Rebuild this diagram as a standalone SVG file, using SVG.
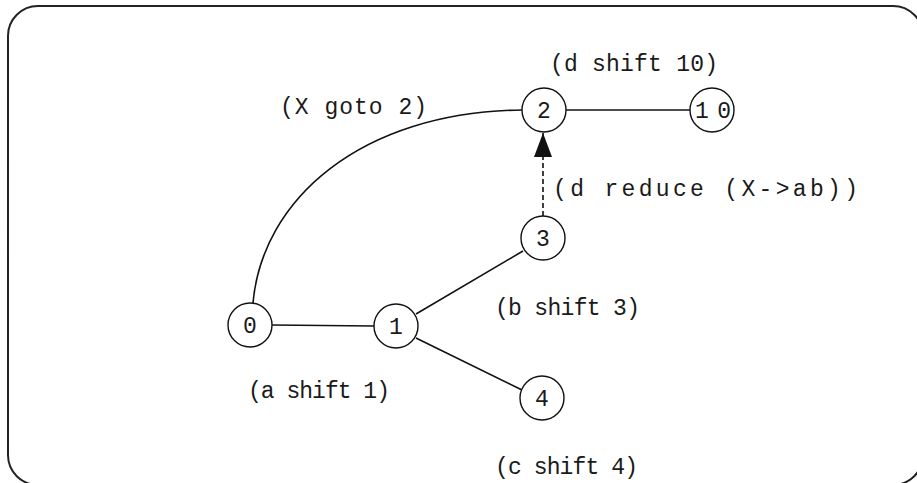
<svg xmlns="http://www.w3.org/2000/svg" width="917" height="483" viewBox="0 0 917 483">
<style>
.n{fill:#fff;stroke:#111;stroke-width:1.4}
.t{font-family:"Liberation Mono","DejaVu Sans Mono",monospace;font-size:23px;fill:#1a1a1a}
.c{text-anchor:middle}
.e{fill:none;stroke:#111;stroke-width:1.6}
.d{stroke-dasharray:5 3}
</style>
<defs>
<marker id="ah" markerWidth="24" markerHeight="18" refX="24" refY="9" orient="auto" markerUnits="userSpaceOnUse" viewBox="0 0 24 18">
<path d="M0,0 L24,9 L0,18 z" fill="#111"/>
</marker>
</defs>
<rect x="8" y="6" width="915" height="479" rx="30" ry="30" fill="#fff" stroke="#222" stroke-width="2"/>
<g id="connectors">
<line class="e" x1="272" y1="325" x2="374" y2="326"/>
<line class="e" x1="416" y1="314" x2="523" y2="251"/>
<line class="e" x1="416" y1="338" x2="522" y2="390"/>
<line class="e" x1="566" y1="110" x2="690" y2="110"/>
<path class="e" d="M253,303 C262,200 360,112 522,110"/>
<line class="e d" x1="543" y1="216" x2="543" y2="133" marker-end="url(#ah)"/>
</g>
<g id="labels">
<text class="t" x="280" y="114" textLength="147" lengthAdjust="spacing">(X goto 2)</text>
<text class="t" x="550" y="71" textLength="168" lengthAdjust="spacing">(d shift 10)</text>
<text class="t" x="553" y="196" textLength="305" lengthAdjust="spacing">(d reduce (X-&gt;ab))</text>
<text class="t" x="495" y="315" textLength="145" lengthAdjust="spacing">(b shift 3)</text>
<text class="t" x="248" y="398" textLength="142" lengthAdjust="spacing">(a shift 1)</text>
<text class="t" x="495" y="474" textLength="143" lengthAdjust="spacing">(c shift 4)</text>
</g>
<g id="node0"><circle class="n" cx="250" cy="325" r="22"/><text class="t c" x="250" y="333">0</text></g>
<g id="node1"><circle class="n" cx="396" cy="326" r="22"/><text class="t c" x="396" y="334">1</text></g>
<g id="node2"><circle class="n" cx="544" cy="110" r="22"/><text class="t c" x="544" y="118">2</text></g>
<g id="node3"><circle class="n" cx="543" cy="238" r="22"/><text class="t c" x="543" y="246">3</text></g>
<g id="node4"><circle class="n" cx="542" cy="398" r="22"/><text class="t c" x="542" y="406">4</text></g>
<g id="node10"><circle class="n" cx="712" cy="110" r="22"/><text class="t" x="695" y="118" textLength="36" lengthAdjust="spacing">10</text></g>
</svg>
